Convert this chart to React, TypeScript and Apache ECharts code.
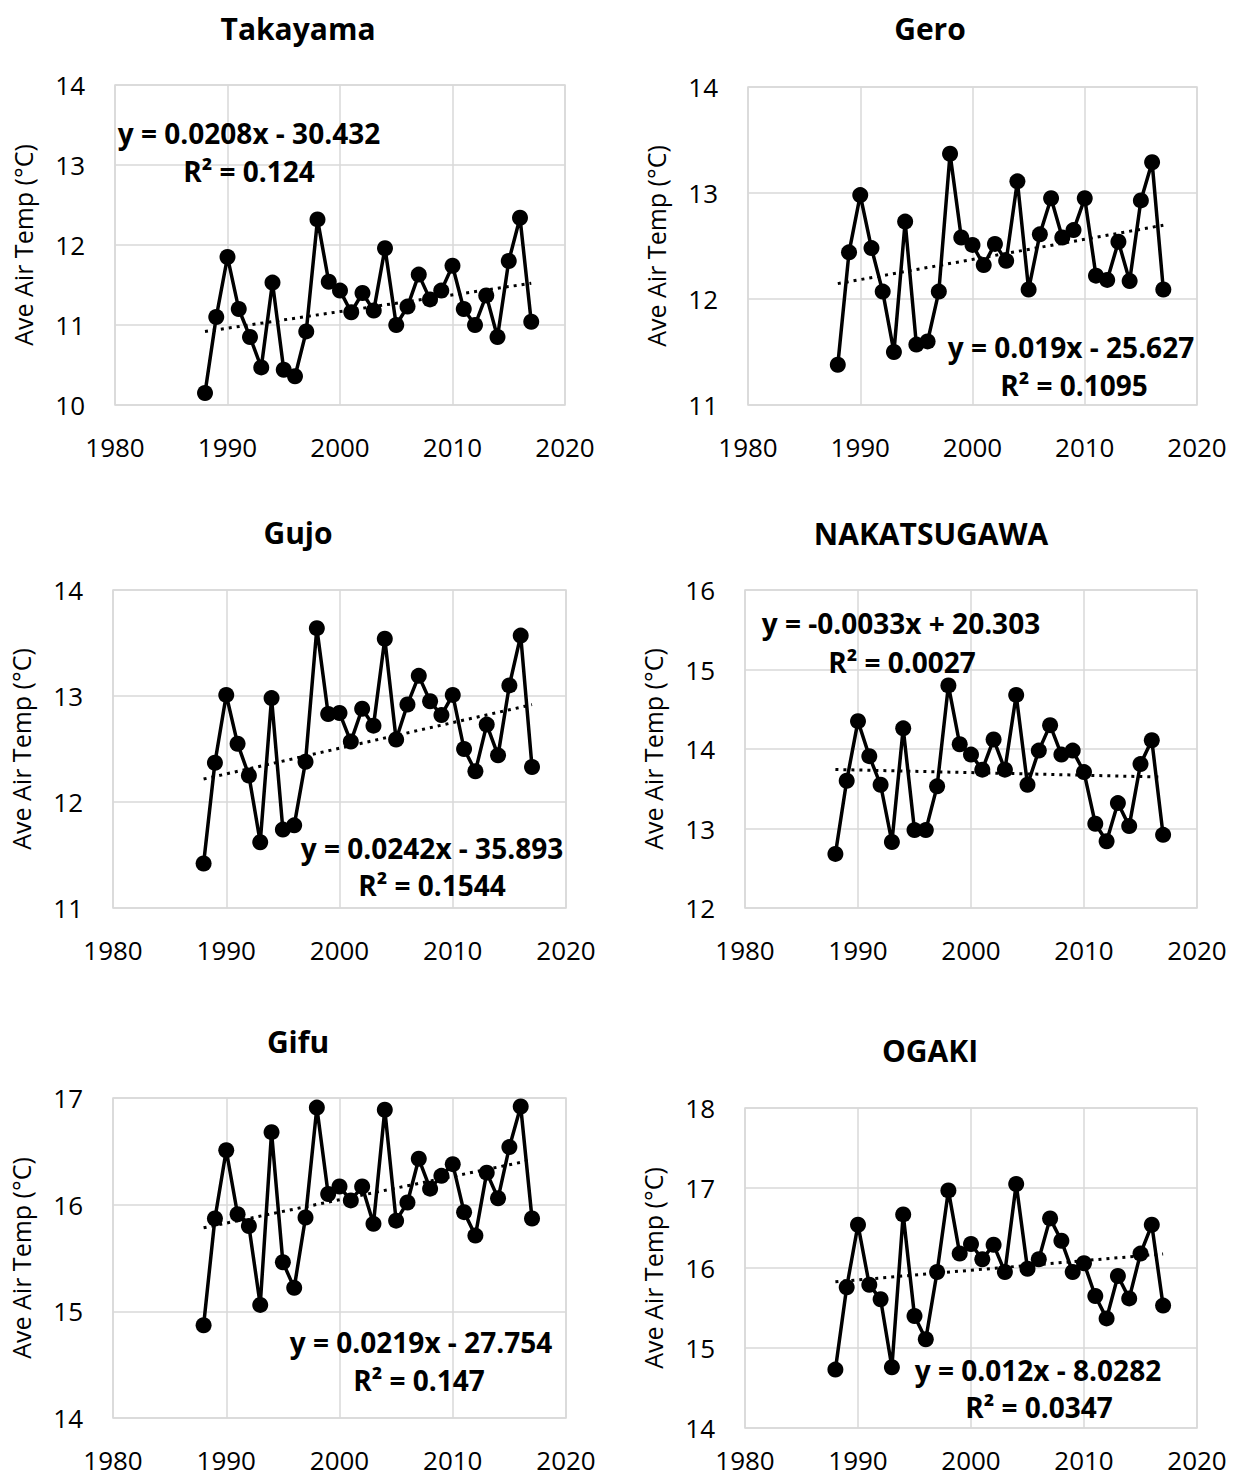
import React, { useEffect, useRef } from "react";
import * as echarts from "echarts";

const years = [
  1988, 1989, 1990, 1991, 1992, 1993, 1994, 1995, 1996, 1997,
  1998, 1999, 2000, 2001, 2002, 2003, 2004, 2005, 2006, 2007,
  2008, 2009, 2010, 2011, 2012, 2013, 2014, 2015, 2016, 2017,
];

const takayama = [
  10.15, 11.1, 11.85, 11.2, 10.85, 10.47, 11.53, 10.44, 10.36, 10.92,
  12.32, 11.54, 11.43, 11.16, 11.4, 11.18, 11.96, 11.0, 11.23, 11.63,
  11.32, 11.43, 11.74, 11.2, 11.0, 11.37, 10.85, 11.8, 12.34, 11.04,
];
const gero = [
  11.38, 12.44, 12.98, 12.48, 12.07, 11.5, 12.73, 11.57, 11.6, 12.07,
  13.37, 12.58, 12.51, 12.32, 12.52, 12.36, 13.11, 12.09, 12.61, 12.95,
  12.58, 12.65, 12.95, 12.22, 12.18, 12.54, 12.17, 12.93, 13.29, 12.09,
];
const gujo = [
  11.42, 12.37, 13.01, 12.55, 12.25, 11.62, 12.98, 11.74, 11.78, 12.38,
  13.64, 12.83, 12.84, 12.57, 12.88, 12.72, 13.54, 12.59, 12.92, 13.19,
  12.95, 12.82, 13.01, 12.5, 12.29, 12.73, 12.44, 13.1, 13.57, 12.33,
];
const nakatsugawa = [
  12.68, 13.6, 14.35, 13.91, 13.55, 12.83, 14.26, 12.98, 12.98, 13.53,
  14.8, 14.06, 13.93, 13.74, 14.12, 13.74, 14.68, 13.55, 13.98, 14.3,
  13.93, 13.98, 13.71, 13.06, 12.84, 13.32, 13.03, 13.81, 14.11, 12.92,
];
const gifu = [
  14.87, 15.87, 16.51, 15.91, 15.8, 15.06, 16.68, 15.46, 15.22, 15.88,
  16.91, 16.1, 16.17, 16.04, 16.17, 15.82, 16.89, 15.85, 16.02, 16.43,
  16.15, 16.27, 16.38, 15.93, 15.71, 16.3, 16.06, 16.54, 16.92, 15.87,
];
const ogaki = [
  14.73, 15.76, 16.54, 15.79, 15.61, 14.76, 16.67, 15.4, 15.11, 15.95,
  16.97, 16.18, 16.3, 16.11, 16.29, 15.95, 17.05, 15.99, 16.11, 16.62,
  16.34, 15.95, 16.06, 15.65, 15.37, 15.9, 15.62, 16.18, 16.54, 15.53,
];

const stationNames = ["Takayama", "Gero", "Gujo", "NAKATSUGAWA", "Gifu", "OGAKI"];
const stationValues = [takayama, gero, gujo, nakatsugawa, gifu, ogaki];
const slopes = [0.0208, 0.019, 0.0242, -0.0033, 0.0219, 0.012];
const intercepts = [-30.432, -25.627, -35.893, 20.303, -27.754, -8.0282];
const equationLabels = [
  "y = 0.0208x - 30.432",
  "y = 0.019x - 25.627",
  "y = 0.0242x - 35.893",
  "y = -0.0033x + 20.303",
  "y = 0.0219x - 27.754",
  "y = 0.012x - 8.0282",
];
const r2Labels = ["R² = 0.124", "R² = 0.1095", "R² = 0.1544", "R² = 0.0027", "R² = 0.147", "R² = 0.0347"];
const yMins = [10, 11, 11, 12, 14, 14];
const yMaxs = [14, 14, 14, 16, 17, 18];
const xMin = 1980;
const xMax = 2020;
const xInterval = 10;
const yAxisName = "Ave Air Temp (°C)";

// layout (pixels)
const grids = [
  { left: 115, top: 85, width: 450, height: 320 },
  { left: 748, top: 87, width: 449, height: 318 },
  { left: 113, top: 590, width: 453, height: 318 },
  { left: 745, top: 590, width: 452, height: 318 },
  { left: 113, top: 1098, width: 453, height: 320 },
  { left: 745, top: 1108, width: 452, height: 320 },
];
const xLabelMargins = [29, 29, 29, 29, 29, 19];
const titlePos = [
  [298, 28], [930, 28], [298, 532], [931, 533], [298, 1041], [930, 1050],
];
const eqPos = [
  [249, 133, 249, 171],
  [1071, 347, 1074, 385],
  [432, 848, 432, 885],
  [901, 623, 902, 662],
  [421, 1342, 419, 1380],
  [1038, 1370, 1039, 1407],
];

const FONT = '"Open Sans", "Liberation Sans", sans-serif';

export default function App() {
  const ref = useRef<HTMLDivElement>(null);
  useEffect(() => {
    document.body.style.margin = "0";
    if (!ref.current) return;
    const chart = echarts.init(ref.current, undefined, { renderer: "svg" });

    const gridOpts: any[] = [];
    const xAxes: any[] = [];
    const yAxes: any[] = [];
    const series: any[] = [];
    const graphics: any[] = [];

    stationNames.forEach((name, i) => {
      const g = grids[i];
      gridOpts.push({
        left: g.left, top: g.top, width: g.width, height: g.height,
        show: true, borderColor: "#d9d9d9", borderWidth: 1.5,
        containLabel: false,
      });
      xAxes.push({
        type: "value", gridIndex: i, min: xMin, max: xMax, interval: xInterval,
        axisLine: { show: false }, axisTick: { show: false },
        splitLine: { show: true, lineStyle: { color: "#d9d9d9", width: 1.5 } },
        axisLabel: {
          color: "#000", fontSize: 26, lineHeight: 26, fontFamily: FONT,
          margin: xLabelMargins[i], formatter: (v: number) => String(v),
        },
      });
      yAxes.push({
        type: "value", gridIndex: i, min: yMins[i], max: yMaxs[i], interval: 1,
        axisLine: { show: false }, axisTick: { show: false },
        splitLine: { show: true, lineStyle: { color: "#d9d9d9", width: 1.5 } },
        axisLabel: { color: "#000", fontSize: 26, fontFamily: FONT, margin: 30 },
        name: yAxisName, nameLocation: "middle", nameRotate: 90, nameGap: 80,
        nameTextStyle: { color: "#000", fontSize: 25, fontFamily: FONT },
      });
      const vals = stationValues[i];
      series.push({
        type: "line", xAxisIndex: i, yAxisIndex: i,
        data: years.map((y, k) => [y, vals[k]]),
        symbol: "circle", symbolSize: 16,
        lineStyle: { color: "#000", width: 3.5 },
        itemStyle: { color: "#000" },
        z: 3,
      });
      const x0 = years[0];
      const x1 = years[years.length - 1];
      series.push({
        type: "line", xAxisIndex: i, yAxisIndex: i,
        data: [[x0, slopes[i] * x0 + intercepts[i]], [x1, slopes[i] * x1 + intercepts[i]]],
        symbol: "none",
        lineStyle: { color: "#000", width: 3, type: [3, 5] },
        z: 4,
      });
      graphics.push({
        type: "text", x: titlePos[i][0], y: titlePos[i][1],
        style: {
          text: name, fill: "#000", font: `700 30px ${FONT}`,
          align: "center", verticalAlign: "middle", textAlign: "center", textVerticalAlign: "middle",
        },
      });
      const e = eqPos[i];
      graphics.push({
        type: "text", x: e[0], y: e[1], z: 10,
        style: {
          text: equationLabels[i], fill: "#000", font: `700 28px ${FONT}`,
          align: "center", verticalAlign: "middle", textAlign: "center", textVerticalAlign: "middle",
        },
      });
      graphics.push({
        type: "text", x: e[2], y: e[3], z: 10,
        style: {
          text: r2Labels[i], fill: "#000", font: `700 28px ${FONT}`,
          align: "center", verticalAlign: "middle", textAlign: "center", textVerticalAlign: "middle",
        },
      });
    });

    chart.setOption({
      animation: false,
      backgroundColor: "#fff",
      grid: gridOpts,
      xAxis: xAxes,
      yAxis: yAxes,
      series,
      graphic: graphics,
    });
    return () => chart.dispose();
  }, []);
  return <div ref={ref} style={{ width: 1237, height: 1483 }} />;
}
